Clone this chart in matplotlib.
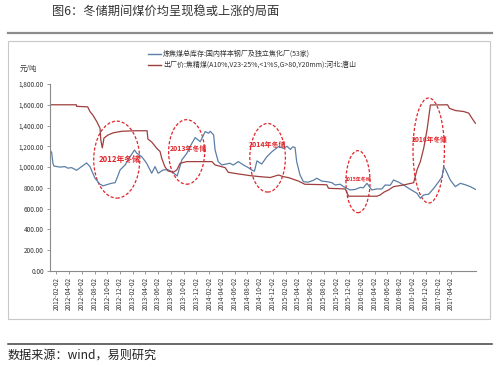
import matplotlib
matplotlib.use("Agg")
import matplotlib.pyplot as plt
import matplotlib.dates as mdates
from matplotlib.patches import Ellipse
from matplotlib.ticker import FuncFormatter, MultipleLocator
import numpy as np
import pandas as pd

plt.rcParams['font.family'] = ['Noto Sans CJK SC', 'DejaVu Sans']

# ---------------- data ----------------
title = "图6：冬储期间煤价均呈现稳或上涨的局面"
source = "数据来源：wind，易则研究"
unit_label = "元/吨"
series_names = ["炼焦煤总库存:国内样本钢厂及独立焦化厂(53家)",
                "出厂价:焦精煤(A10%,V23-25%,<1%S,G>80,Y20mm):河北:唐山"]

stock_dates = ["2012-01-02", "2012-01-10", "2012-01-16", "2012-01-21", "2012-02-19", "2012-03-13",
               "2012-03-27", "2012-04-14", "2012-05-08", "2012-06-01", "2012-06-25", "2012-07-11",
               "2012-08-04", "2012-08-28", "2012-09-12", "2012-10-06", "2012-10-23", "2012-11-08",
               "2012-11-17", "2012-12-02", "2012-12-26", "2013-01-19", "2013-02-09", "2013-02-20",
               "2013-03-15", "2013-04-08", "2013-05-02", "2013-05-18", "2013-06-02", "2013-06-26",
               "2013-07-19", "2013-08-06", "2013-08-22", "2013-09-01", "2013-09-23", "2013-10-17",
               "2013-11-10", "2013-11-26", "2013-12-20", "2014-01-13", "2014-01-29", "2014-02-06",
               "2014-02-22", "2014-03-01", "2014-03-16", "2014-04-02", "2014-05-11", "2014-05-27",
               "2014-06-20", "2014-07-14", "2014-08-07", "2014-08-23", "2014-09-05", "2014-09-17",
               "2014-10-02", "2014-10-10", "2014-11-04", "2014-11-28", "2014-12-29", "2015-01-22",
               "2015-02-08", "2015-02-24", "2015-03-07", "2015-03-18", "2015-03-26", "2015-04-11",
               "2015-04-27", "2015-05-20", "2015-06-14", "2015-06-30", "2015-07-24", "2015-08-17",
               "2015-09-10", "2015-09-26", "2015-10-20", "2015-11-05", "2015-12-07", "2015-12-31",
               "2016-01-24", "2016-02-07", "2016-02-25", "2016-03-19", "2016-04-12", "2016-05-06",
               "2016-05-22", "2016-06-15", "2016-07-01", "2016-07-25", "2016-08-18", "2016-09-19",
               "2016-10-21", "2016-11-06", "2016-11-22", "2016-12-16", "2017-01-09", "2017-02-02",
               "2017-02-18", "2017-02-26", "2017-03-10", "2017-03-29", "2017-04-22", "2017-05-16",
               "2017-06-09", "2017-07-03", "2017-07-27"]
stock_values = [1165, 1140, 1037, 1010, 1000, 1005,
                990, 995, 970, 1005, 1040, 1005,
                893, 835, 820, 835, 845, 850,
                893, 973, 1021, 1101, 1165, 1133,
                1101, 1037, 941, 1005, 941, 973,
                975, 956, 931, 915, 1069, 1133,
                1229, 1284, 1245, 1342, 1326, 1345,
                1310, 1165, 1053, 1021, 1037, 1020,
                1053, 1021, 995, 973, 960, 1060,
                1040, 1030, 1101, 1149, 1197, 1181,
                1200, 1170, 1195, 1190, 1053, 924,
                860, 855, 873, 893, 865, 860,
                850, 828, 835, 812, 780, 785,
                805, 800, 844, 780, 790, 790,
                828, 825, 876, 855, 828, 786,
                748, 700, 732, 740, 796, 860,
                908, 1004, 960, 876, 812, 844,
                830, 812, 786]

price_dates = ["2012-01-02", "2012-05-07", "2012-05-08", "2012-06-30", "2012-07-11", "2012-07-25",
               "2012-08-12", "2012-08-28", "2012-09-01", "2012-09-08", "2012-09-16", "2012-10-06",
               "2012-10-30", "2012-12-10", "2013-02-13", "2013-04-10", "2013-04-14", "2013-05-03",
               "2013-05-26", "2013-06-11", "2013-06-19", "2013-07-04", "2013-07-19", "2013-08-13",
               "2013-08-30", "2013-09-15", "2013-10-17", "2014-02-14", "2014-03-01", "2014-04-18",
               "2014-05-03", "2014-06-12", "2014-08-15", "2014-10-02", "2014-11-20", "2014-12-29",
               "2015-01-22", "2015-02-16", "2015-04-03", "2015-05-04", "2015-08-17", "2015-08-25",
               "2015-11-13", "2015-11-29", "2016-04-12", "2016-04-28", "2016-05-17", "2016-06-07",
               "2016-07-01", "2016-08-18", "2016-10-05", "2016-10-21", "2016-11-06", "2016-11-22",
               "2016-12-08", "2016-12-24", "2017-03-16", "2017-03-25", "2017-04-22", "2017-06-01",
               "2017-06-25", "2017-07-11", "2017-07-27"]
price_values = [1600, 1600, 1585, 1580, 1535, 1500,
                1440, 1375, 1260, 1185, 1280, 1310,
                1330, 1345, 1350, 1350, 1270, 1240,
                1181, 1150, 1085, 1004, 963, 950,
                973, 1037, 1053, 1053, 1021, 995,
                950, 937, 918, 908, 900, 924,
                908, 898, 866, 835, 830, 796,
                790, 720, 720, 732, 760, 780,
                812, 828, 850, 973, 1053, 1181,
                1358, 1598, 1600, 1566, 1545, 1535,
                1520, 1470, 1422]

# winter-storage annotations: label, center date, center value, width (days), height (value)
ann_labels = ["2012年冬储", "2013年冬储", "2014年冬储", "2015年冬储", "2016年冬储"]
ann_dates = ["2012-11-16", "2013-10-16", "2014-11-07", "2016-01-13", "2016-12-16"]
ann_values = [1072, 1146, 1090, 860, 1160]
ann_widths = [220, 172, 170, 115, 150]
ann_heights = [741, 621, 660, 597, 1011]
ann_text_dates = ["2012-11-28", "2013-10-23", "2014-11-05", "2016-01-15", "2016-12-18"]
ann_text_values = [1069, 1184, 1213, 886, 1262]
ann_fontsizes = [5.6, 5.0, 5.0, 3.6, 4.8]

# ---------------- figure ----------------
W, H = 500, 367
fig = plt.figure(figsize=(W / 100, H / 100), dpi=100)

def fx(px):
    return px / W

def fy(py):
    return 1 - py / H

# title and separators
fig.text(fx(52), fy(12), title, fontsize=8.8, color='#333333', ha='left', va='center')
fig.add_artist(plt.Line2D([fx(8), fx(492)], [fy(33), fy(33)], color='#8c8c8c', lw=1.6))
# chart frame
fig.add_artist(plt.Rectangle((fx(8), fy(319)), fx(490) - fx(8), fy(41) - fy(319),
                             fill=False, edgecolor='#c8c8c8', lw=0.8))
fig.add_artist(plt.Line2D([fx(8), fx(492)], [fy(344), fy(344)], color='#404040', lw=1.1))
fig.text(fx(8), fy(355), source, fontsize=8.7, color='#222222', ha='left', va='center')

ax = fig.add_axes([fx(50), fy(271), fx(476) - fx(50), fy(84) - fy(271)])

sd = pd.to_datetime(stock_dates)
pdts = pd.to_datetime(price_dates)
blue = '#5b7fa6'
red = '#9e3f3d'
ax.plot(sd, stock_values, color=blue, lw=0.9)
ax.plot(pdts, price_values, color=red, lw=0.9)

ax.set_ylim(0, 1800)
ax.set_xlim(pd.Timestamp("2012-01-02"), pd.Timestamp("2017-07-30"))
ax.yaxis.set_major_locator(MultipleLocator(200))
ax.yaxis.set_major_formatter(FuncFormatter(lambda v, p: f"{v:,.2f}"))

ticks = pd.date_range("2012-01-02", "2017-05-02", freq="2MS") + pd.Timedelta(days=1)
ax.set_xticks(ticks)
ax.set_xticklabels([t.strftime("%Y-%m-%d") for t in ticks], rotation=90)

for s in ['top', 'right']:
    ax.spines[s].set_visible(False)
for s in ['left', 'bottom']:
    ax.spines[s].set_color('#8a8a8a')
    ax.spines[s].set_linewidth(0.8)
ax.tick_params(axis='both', colors='#8a8a8a', labelcolor='#333333', labelsize=4.6,
               length=2.5, width=0.6, direction='out', pad=2)
ax.set_facecolor('none')

fig.text(fx(20), fy(68.5), unit_label, fontsize=5.2, color='#333333', ha='left', va='center')

# legend
for i, (name, col) in enumerate(zip(series_names, [blue, red])):
    yy = fy(54 + 11 * i)
    fig.add_artist(plt.Line2D([fx(148), fx(161)], [yy, yy], color=col, lw=1.0))
    fig.text(fx(163), yy, name, fontsize=5.0, color='#333333', ha='left', va='center')

# ellipses
for lab, d, v, w, h, td, tv, fs in zip(ann_labels, ann_dates, ann_values, ann_widths, ann_heights,
                                        ann_text_dates, ann_text_values, ann_fontsizes):
    c = mdates.date2num(pd.Timestamp(d))
    e = Ellipse((c, v), w, h, fill=False, edgecolor='#e0262b', lw=0.9, ls=(0, (2.5, 1.5)))
    ax.add_patch(e)
    ax.text(pd.Timestamp(td), tv, lab, fontsize=fs, color='#e0262b', fontweight='bold',
            ha='center', va='center')

fig.savefig("out.png", dpi=100)
